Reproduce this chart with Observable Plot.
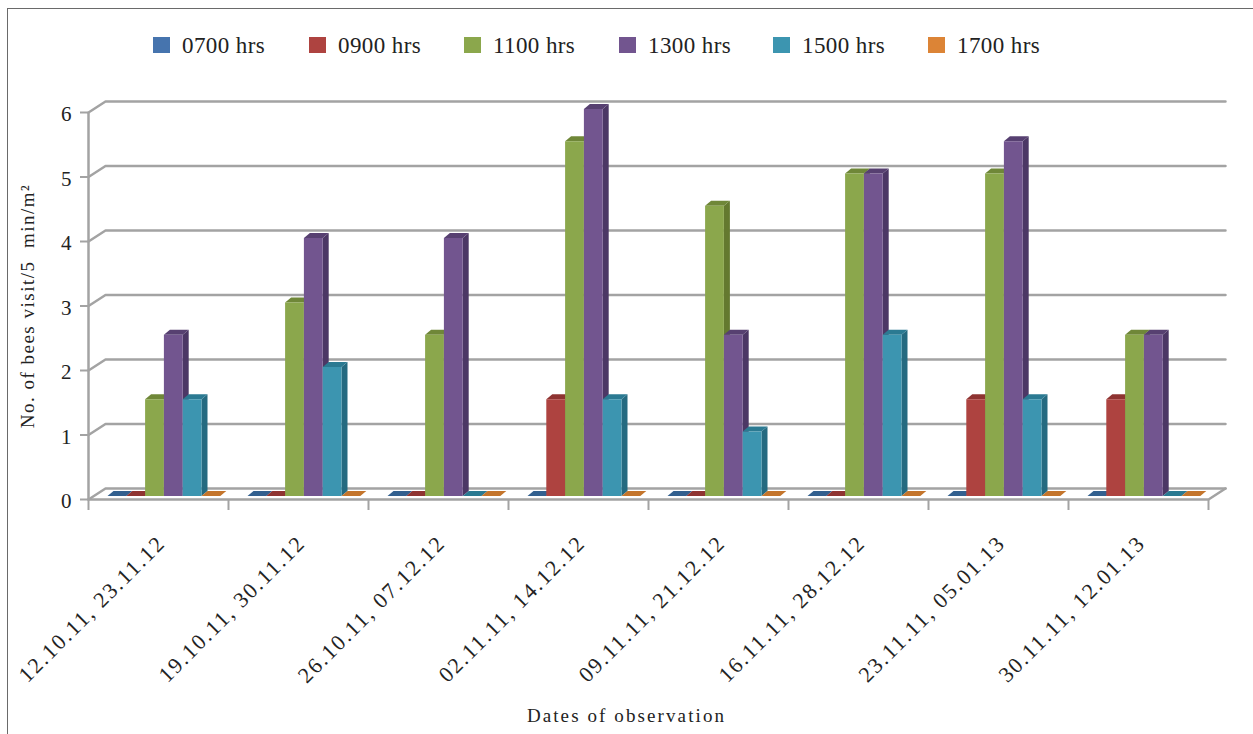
<!DOCTYPE html>
<html>
<head>
<meta charset="utf-8">
<script src="https://cdn.jsdelivr.net/npm/d3@7"></script>
<script src="https://cdn.jsdelivr.net/npm/@observablehq/plot@0.6"></script>
<style>
  html, body { margin: 0; padding: 0; background: #fff; }
  body { width: 1253px; height: 734px; position: relative; overflow: hidden; font-family: "Liberation Serif", serif; color: #222; }
  #frame { position: absolute; left: 7px; top: 8px; width: 1260px; height: 740px; border: 1.5px solid #6a6a6a; box-sizing: border-box; }
  #legend { position: absolute; left: 0; top: 33px; height: 30px; width: 1253px; font-size: 23px; }
  #legend div { position: absolute; top: 0; white-space: nowrap; letter-spacing: 0.4px; }
  #legend i { display: inline-block; width: 17px; height: 16px; margin-right: 12px; }
  #chart { position: absolute; left: 0; top: 80px; }
  #caption { position: absolute; left: 0; top: 705px; width: 1253px; text-align: center; font-size: 19px; letter-spacing: 2.1px; }
  .date-label { letter-spacing: 1.85px; }
  .y-title { letter-spacing: 1.5px; }
</style>
</head>
<body>
<div id="frame"></div>
<div id="legend"></div>
<div id="chart"></div>
<div id="caption">Dates of observation</div>
<script>
// Visits per observation date, one list per hour of the day.
const dates = ["12.10.11, 23.11.12", "19.10.11, 30.11.12", "26.10.11, 07.12.12", "02.11.11, 14.12.12",
               "09.11.11, 21.12.12", "16.11.11, 28.12.12", "23.11.11, 05.01.13", "30.11.11, 12.01.13"];
const hours = ["0700 hrs", "0900 hrs", "1100 hrs", "1300 hrs", "1500 hrs", "1700 hrs"];
const v0700 = [0, 0, 0, 0, 0, 0, 0, 0];
const v0900 = [0, 0, 0, 1.5, 0, 0, 1.5, 1.5];
const v1100 = [1.5, 3, 2.5, 5.5, 4.5, 5, 5, 2.5];
const v1300 = [2.5, 4, 4, 6, 2.5, 5, 5.5, 2.5];
const v1500 = [1.5, 2, 0, 1.5, 1, 2.5, 1.5, 0];
const v1700 = [0, 0, 0, 0, 0, 0, 0, 0];
const seriesValues = [v0700, v0900, v1100, v1300, v1500, v1700];
const yTicks = [0, 1, 2, 3, 4, 5, 6];

const fronts = ["#4674ae", "#ae4340", "#8ba74c", "#72558f", "#3c95b0", "#dc8436"];
const sides  = ["#2b5183", "#7d2c2a", "#64792f", "#4c3765", "#256a80", "#a85f20"];
const tops   = ["#33608f", "#8e3331", "#6f8738", "#574071", "#2b7a92", "#c4752c"];
const legendLeft = [153, 309, 464, 619, 773, 928];

// Plot-area geometry in data units.
const pxPerGroup = 140, pxPerUnit = 64.5;
const barStart = 19.5 / pxPerGroup, barWidth = 18.8 / pxPerGroup;
const barDepthX = 6 / pxPerGroup, barDepthY = 5 / pxPerUnit;
const wallDepthX = 17 / pxPerGroup, wallDepthY = 11 / pxPerUnit;
const groups = dates.length;
const groupEdges = d3.range(groups + 1);

// Side and top parallelograms of every bar are outlined as two-edged areas.
function sideFace(j) {
  return seriesValues[j].flatMap((v, i) => {
    const xr = i + barStart + (j + 1) * barWidth;
    return [
      {id: i, x: xr, y1: 0, y2: v},
      {id: i, x: xr + barDepthX, y1: barDepthY, y2: v + barDepthY}
    ];
  });
}
function topFace(j) {
  return seriesValues[j].flatMap((v, i) => {
    const xl = i + barStart + j * barWidth, xr = xl + barWidth;
    return [
      {id: i, x: xl, y1: v, y2: v},
      {id: i, x: xl + barDepthX, y1: v, y2: v + barDepthY},
      {id: i, x: xr, y1: v, y2: v + barDepthY},
      {id: i, x: xr + barDepthX, y1: v + barDepthY, y2: v + barDepthY}
    ];
  });
}

const gridColor = "#a3a3a3";
const barShift = -3;

// Wall gridlines recede from the front axis to the back plane.
const wallLines = yTicks.map(t => Plot.line(
  [[0, t], [wallDepthX, t + wallDepthY], [groups + wallDepthX, t + wallDepthY]],
  {x: d => d[0], y: d => d[1], stroke: gridColor, strokeWidth: 2.5, curve: "linear"}
));
const floorEdge = Plot.line(
  [[0, 0], [groups, 0], [groups + wallDepthX, wallDepthY]],
  {x: d => d[0], y: d => d[1], stroke: gridColor, strokeWidth: 2.5}
);

const barMarks = seriesValues.flatMap((values, j) => [
  Plot.areaY(sideFace(j), {x: "x", y1: "y1", y2: "y2", z: "id", fill: sides[j], dy: barShift, curve: "linear"}),
  Plot.areaY(topFace(j), {x: "x", y1: "y1", y2: "y2", z: "id", fill: tops[j], dy: barShift, curve: "linear"}),
  Plot.rect(values, {
    x1: (v, i) => i + barStart + j * barWidth,
    x2: (v, i) => i + barStart + (j + 1) * barWidth,
    y1: () => 0,
    y2: v => v,
    fill: fronts[j],
    dy: barShift
  })
]);

const plot = Plot.plot({
  width: 1253,
  height: 620,
  marginLeft: 88,
  marginRight: 45,
  marginTop: 32,
  marginBottom: 201,
  style: {fontFamily: "Liberation Serif, serif", background: "transparent", overflow: "visible", color: "#222"},
  x: {type: "linear", domain: [0, groups]},
  y: {type: "linear", domain: [0, 6]},
  marks: [
    ...wallLines,
    floorEdge,
    Plot.ruleX([0], {y1: 0, y2: 6, stroke: gridColor, strokeWidth: 2.5}),
    ...barMarks,
    Plot.axisY({ticks: yTicks, tickSize: 8, stroke: gridColor, strokeWidth: 2, tickFormat: () => "", label: null}),
    Plot.axisY({
      ticks: yTicks, tickSize: 0, tickPadding: 17, dy: 2,
      fontSize: 21, label: null, tickFormat: d => d3.format("d")(d)
    }),
    Plot.axisX({
      ticks: groupEdges, tickSize: 11, stroke: gridColor, strokeWidth: 2,
      tickFormat: () => "", label: null
    }),
    Plot.text(dates, {
      x: (d, i) => i + 0.5,
      y: () => 0,
      text: d => d,
      rotate: -45,
      textAnchor: "end",
      dx: 3,
      dy: 40,
      fontSize: 22,
      fill: "#222",
      className: "date-label"
    }),
    Plot.text(["No. of bees visit/5  min/m²"], {
      frameAnchor: "left",
      textAnchor: "middle",
      dx: -61,
      text: d => d,
      rotate: -90,
      fontSize: 19,
      fill: "#222",
      className: "y-title"
    })
  ]
});
document.getElementById("chart").append(plot);

const legend = document.getElementById("legend");
hours.forEach((h, j) => {
  const item = document.createElement("div");
  item.style.left = legendLeft[j] + "px";
  const swatch = document.createElement("i");
  swatch.style.background = fronts[j];
  item.append(swatch, h);
  legend.append(item);
});
</script>
</body>
</html>
